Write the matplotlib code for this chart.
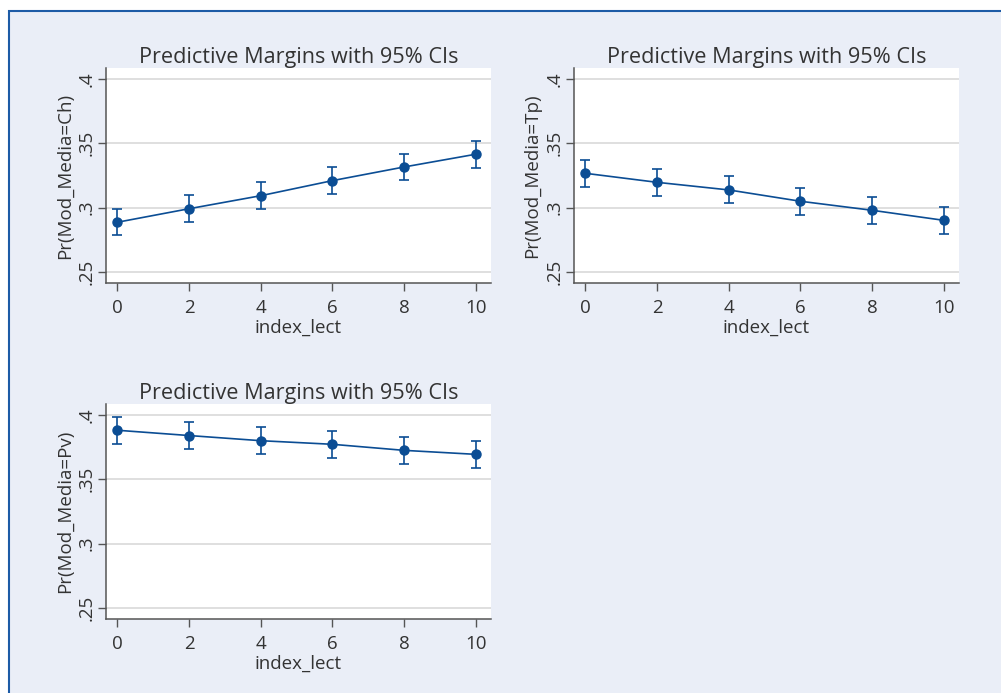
import matplotlib
matplotlib.use("Agg")
import matplotlib.pyplot as plt
from matplotlib.patches import Rectangle

plt.rcParams['font.family'] = ['Open Sans', 'DejaVu Sans']

x_vals = [0, 2, 4, 6, 8, 10]
ch_margin = [0.2887, 0.2992, 0.3093, 0.3210, 0.3316, 0.3415]
tp_margin = [0.3267, 0.3197, 0.3138, 0.3050, 0.2980, 0.2902]
pv_margin = [0.3881, 0.3840, 0.3800, 0.3772, 0.3725, 0.3694]
ch_ci = [0.0103, 0.0103, 0.0103, 0.0103, 0.0103, 0.0103]
tp_ci = [0.0105, 0.0105, 0.0105, 0.0105, 0.0105, 0.0105]
pv_ci = [0.0103, 0.0103, 0.0103, 0.0103, 0.0103, 0.0103]
y_ticks = [0.25, 0.30, 0.35, 0.40]
y_ticklabels = ['.25', '.3', '.35', '.4']
x_ticks = [0, 2, 4, 6, 8, 10]
title = 'Predictive Margins with 95% CIs'
xlabel = 'index_lect'
ylabels = ['Pr(Mod_Media=Ch)', 'Pr(Mod_Media=Tp)', 'Pr(Mod_Media=Pv)']

W, H = 1001, 693
fig = plt.figure(figsize=(W / 100, H / 100), dpi=100, facecolor='white')
bg = '#EAEEF7'
fig.patches.append(Rectangle((9 / W, -0.05), 1.1, 1 - 11 / H + 0.05,
                             transform=fig.transFigure, facecolor=bg,
                             edgecolor='#1d5ba6', linewidth=1.5, zorder=-10))

line_col = '#0b4d94'
text_col = '#333333'

def panel(rect, y, ci, ylab):
    ax = fig.add_axes(rect)
    ax.set_facecolor('white')
    ax.errorbar(x_vals, y, yerr=ci, color=line_col, lw=1.2, marker='o', ms=6.5,
                capsize=3.5, capthick=1.2, elinewidth=1.2, zorder=3)
    ax.set_xlim(-0.32, 10.43)
    ax.set_ylim(0.2415, 0.4085)
    ax.set_yticks(y_ticks)
    ax.set_yticklabels(y_ticklabels, rotation=90, va='center')
    ax.set_xticks(x_ticks)
    ax.grid(axis='y', color='#dcdcdc', lw=1.3)
    ax.set_axisbelow(True)
    for s in ['top', 'right']:
        ax.spines[s].set_visible(False)
    for s in ['left', 'bottom']:
        ax.spines[s].set_color('#555555')
        ax.spines[s].set_linewidth(1.1)
    ax.tick_params(axis='both', length=5.5, width=1.0, color='#555555',
                   labelsize=13.5, labelcolor=text_col)
    ax.tick_params(axis='x', pad=6)
    ax.tick_params(axis='y', pad=2)
    ax.set_xlabel(xlabel, fontsize=13.5, color=text_col, labelpad=1)
    ax.set_ylabel(ylab, fontsize=13.5, color=text_col, labelpad=3)
    ax.set_title(title, fontsize=15.6, color=text_col, pad=2)
    return ax

hgt = 215 / H
wid = 385 / W
panel([106 / W, 1 - 283 / H, wid, hgt], ch_margin, ch_ci, ylabels[0])
panel([574 / W, 1 - 283 / H, wid, hgt], tp_margin, tp_ci, ylabels[1])
panel([106 / W, 1 - 619 / H, wid, hgt], pv_margin, pv_ci, ylabels[2])

fig.savefig('out.png', dpi=100, facecolor='white')
